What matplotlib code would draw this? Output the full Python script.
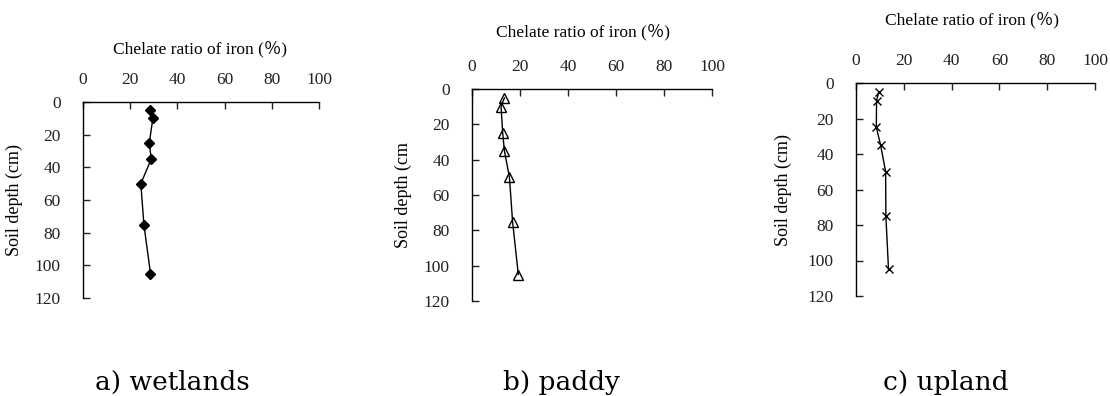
import matplotlib.pyplot as plt
import numpy as np

# soil depth of each sample (cm) and chelate ratio of iron (%) per land use
depth = [5, 10, 25, 35, 50, 75, 105]
wetlands = [28.6, 29.6, 28.1, 28.9, 24.5, 25.8, 28.6]
paddy = [13.5, 12.1, 12.8, 13.5, 15.6, 16.9, 19.3]
upland = [9.5, 8.6, 8.5, 10.3, 12.4, 12.5, 13.6]

captions = ["a) wetlands", "b) paddy", "c) upland"]
ylabels = ["Soil depth (cm)", "Soil depth (cm", "Soil depth (cm)"]
xticks = [0, 20, 40, 60, 80, 100]
yticks = [0, 20, 40, 60, 80, 100, 120]

W, H = 1110, 396
SERIF = ["Liberation Serif", "Noto Sans CJK JP", "DejaVu Sans"]


def px(x0, y0, x1, y1):
    """Pixel box (top-left origin) -> figure fraction rect."""
    return [x0 / W, 1 - y1 / H, (x1 - x0) / W, (y1 - y0) / H]


def main() -> None:
    plt.rcParams["font.family"] = SERIF
    fig = plt.figure(figsize=(W / 100, H / 100), dpi=100)
    fig.patch.set_facecolor("white")

    boxes = [(83, 102, 319, 298), (472, 89, 712, 301), (856, 83, 1095, 296)]
    series = [wetlands, paddy, upland]
    styles = [
        dict(marker="D", markersize=5, markerfacecolor="black"),
        dict(marker="^", markersize=7, markerfacecolor="none"),
        dict(marker="x", markersize=6, markeredgewidth=1.0),
    ]
    ylab_x = [-0.254, -0.25, -0.267]
    titles = [(200, 49), (583, 32), (972, 20)]
    cap_x = [95, 503, 883]

    for i in range(3):
        ax = fig.add_axes(px(*boxes[i]))
        ax.plot(series[i], depth, color="black", linewidth=1.0,
                markeredgecolor="black", **styles[i])

        ax.set_xlim(0, 100)
        ax.set_ylim(120, 0)
        ax.set_xticks(xticks)
        ax.set_yticks(yticks)
        ax.xaxis.tick_top()
        ax.spines["right"].set_visible(False)
        ax.spines["bottom"].set_visible(False)
        for s in ("top", "left"):
            ax.spines[s].set_linewidth(1.0)
        ax.tick_params(axis="x", direction="in", length=5, width=1.0,
                       pad=10, labelsize=12.5, colors="#222222")
        ax.tick_params(axis="y", direction="in", length=5, width=1.0,
                       pad=16, labelsize=12.5, colors="#222222")
        ax.set_ylabel(ylabels[i], fontsize=13)
        ax.yaxis.set_label_coords(ylab_x[i], 0.5)

        tx, ty = titles[i]
        fig.text(tx / W, 1 - ty / H, "Chelate ratio of iron (％)",
                 ha="center", va="center", fontsize=12.5)
        fig.text(cap_x[i] / W, 1 - 390 / H, captions[i], ha="left",
                 va="baseline", fontsize=19, family="DejaVu Serif")

    fig.savefig("out.png", dpi=100, facecolor="white")
    plt.close(fig)


if __name__ == "__main__":
    main()
